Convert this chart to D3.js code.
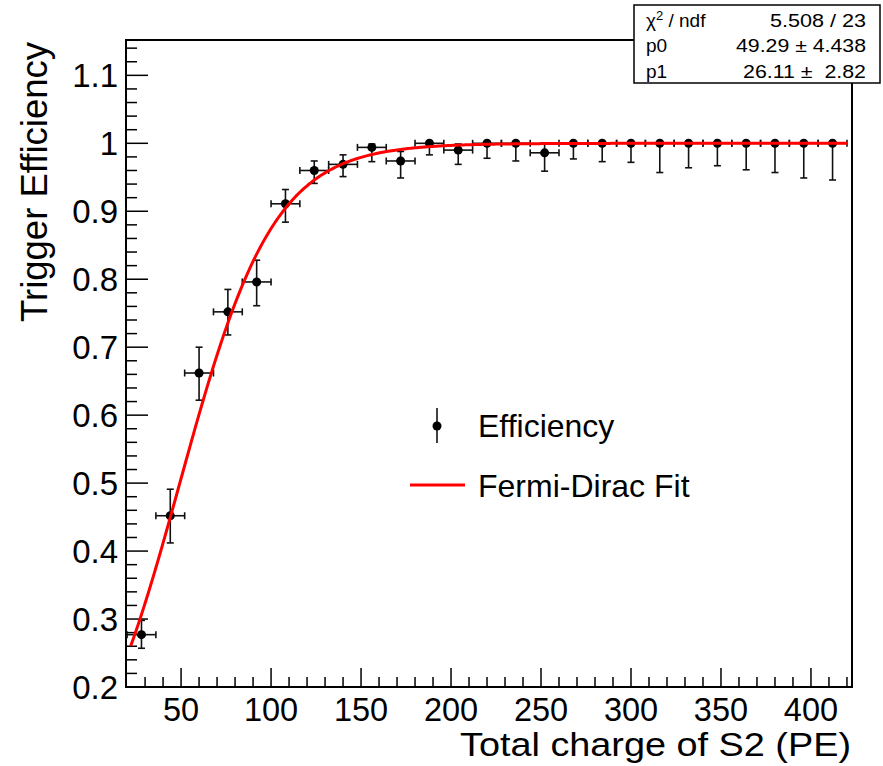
<!DOCTYPE html>
<html>
<head>
<meta charset="utf-8">
<script src="https://cdn.jsdelivr.net/npm/d3@7"></script>
<style>
    body { margin: 0; background: #fff; }
    text { font-family: "Liberation Sans", Arial, sans-serif; fill: #000; }
</style>
</head>
<body>
<div id="chart"></div>
<script>

// bin centres of S2 charge (PE), bin width 16
const binCenters = [28, 44, 60, 76, 92, 108, 124, 140, 156, 172, 188, 204, 220,
    236, 252, 268, 284, 300, 316, 332, 348, 364, 380, 396, 412];
const binHalfWidth = [8, 8, 8, 8, 8, 8, 8, 8, 8, 8, 8, 8, 8, 8, 8, 8, 8, 8, 8, 8, 8, 8, 8, 8, 8];

// trigger efficiency + asymmetric errors
const efficiency = [0.277, 0.452, 0.662, 0.752, 0.796, 0.911, 0.960, 0.969, 0.994, 0.974,
    1.0, 0.990, 1.0, 1.0, 0.986, 1.0, 1.0, 1.0, 1.0, 1.0, 1.0, 1.0, 1.0, 1.0, 1.0];
const errHigh = [0.021, 0.039, 0.038, 0.033, 0.032, 0.021, 0.014, 0.014, 0.005, 0.014,
    0, 0.009, 0, 0, 0.013, 0, 0, 0, 0, 0, 0, 0, 0, 0, 0];
const errLow = [0.020, 0.040, 0.040, 0.034, 0.035, 0.027, 0.019, 0.018, 0.021, 0.025,
    0.017, 0.021, 0.022, 0.026, 0.027, 0.023, 0.027, 0.028, 0.043, 0.036, 0.033, 0.039,
    0.043, 0.051, 0.054];

// fit results (stats box)
const statLabels = ["p0", "p1"];
const statValues = ["49.29 \u00b1 4.438", "26.11 \u00b1  2.82"];
const chi2Text = "5.508 / 23";
const fitParams = [49.29, 26.11];
const fitRange = [22, 420];

const xTicks = [50, 100, 150, 200, 250, 300, 350, 400];
const yTicks = [0.2, 0.3, 0.4, 0.5, 0.6, 0.7, 0.8, 0.9, 1.0, 1.1];

const legendLabels = ["Efficiency", "Fermi-Dirac Fit"];


class EfficiencyVis {

    constructor(parentElement) {
        this.parentElement = parentElement;
        this.data = binCenters.map((x, i) => ({
            x: x, dx: binHalfWidth[i], y: efficiency[i], hi: errHigh[i], lo: errLow[i]
        }));
        this.initVis();
    }

    initVis() {
        let vis = this;

        vis.width = 883;
        vis.height = 766;
        vis.frame = {left: 126, right: 852, top: 40, bottom: 687};

        vis.svg = d3.select("#" + vis.parentElement).append("svg")
            .attr("width", vis.width)
            .attr("height", vis.height);

        vis.x = d3.scaleLinear()
            .domain([19.4, 422.8])
            .range([vis.frame.left, vis.frame.right]);

        vis.y = d3.scaleLinear()
            .domain([0.2, 1.152])
            .range([vis.frame.bottom, vis.frame.top]);

        vis.drawAxes();
        vis.drawPoints();
        vis.drawFit();
        vis.drawLegend();
        vis.drawStats();
    }

    drawAxes() {
        let vis = this;
        let f = vis.frame;

        // frame
        vis.svg.append("rect")
            .attr("x", f.left).attr("y", f.top)
            .attr("width", f.right - f.left).attr("height", f.bottom - f.top)
            .attr("fill", "none").attr("stroke", "#000").attr("stroke-width", 2);

        // x ticks (major 50, minor 10), drawn inwards
        let xMinor = d3.range(30, 421, 10);
        vis.svg.append("g").selectAll("line")
            .data(xMinor)
            .enter().append("line")
            .attr("x1", d => vis.x(d)).attr("x2", d => vis.x(d))
            .attr("y1", f.bottom)
            .attr("y2", d => f.bottom - (d % 50 === 0 ? 19 : 10))
            .attr("stroke", "#000").attr("stroke-width", 1.5);

        vis.svg.append("g").selectAll("text")
            .data(xTicks)
            .enter().append("text")
            .attr("x", d => vis.x(d))
            .attr("y", 721)
            .attr("text-anchor", "middle")
            .attr("font-size", 32.5)
            .text(d => d);

        // y ticks (major 0.1, minor 0.02)
        let yMinor = d3.range(11, 58).map(i => i * 0.02);
        vis.svg.append("g").selectAll("line")
            .data(yMinor)
            .enter().append("line")
            .attr("x1", f.left)
            .attr("x2", d => f.left + (Math.round(d * 100) % 10 === 0 ? 22 : 11))
            .attr("y1", d => vis.y(d)).attr("y2", d => vis.y(d))
            .attr("stroke", "#000").attr("stroke-width", 1.5);

        vis.svg.append("g").selectAll("text")
            .data(yTicks)
            .enter().append("text")
            .attr("x", 118)
            .attr("y", d => vis.y(d) + 12)
            .attr("text-anchor", "end")
            .attr("font-size", 33)
            .text(d => d3.format("~g")(d));

        // titles
        vis.svg.append("text")
            .attr("x", 851).attr("y", 756)
            .attr("text-anchor", "end")
            .attr("font-size", 33)
            .attr("textLength", 391)
            .attr("lengthAdjust", "spacingAndGlyphs")
            .text("Total charge of S2 (PE)");

        vis.svg.append("text")
            .attr("transform", "translate(47,42) rotate(-90)")
            .attr("text-anchor", "end")
            .attr("font-size", 36.5)
            .text("Trigger Efficiency");
    }

    drawPoints() {
        let vis = this;
        let g = vis.svg.append("g")
            .attr("stroke", "#111").attr("stroke-width", 1.6);

        let pts = g.selectAll(".pt")
            .data(vis.data)
            .enter().append("g").attr("class", "pt");

        // horizontal bar (bin width)
        pts.append("line")
            .attr("x1", d => vis.x(d.x - d.dx)).attr("x2", d => vis.x(d.x + d.dx))
            .attr("y1", d => vis.y(d.y)).attr("y2", d => vis.y(d.y));
        pts.append("line")
            .attr("x1", d => vis.x(d.x - d.dx)).attr("x2", d => vis.x(d.x - d.dx))
            .attr("y1", d => vis.y(d.y) - 3.5).attr("y2", d => vis.y(d.y) + 3.5);
        pts.append("line")
            .attr("x1", d => vis.x(d.x + d.dx)).attr("x2", d => vis.x(d.x + d.dx))
            .attr("y1", d => vis.y(d.y) - 3.5).attr("y2", d => vis.y(d.y) + 3.5);

        // vertical error
        pts.append("line")
            .attr("x1", d => vis.x(d.x)).attr("x2", d => vis.x(d.x))
            .attr("y1", d => vis.y(d.y + d.hi)).attr("y2", d => vis.y(d.y - d.lo));
        pts.append("line")
            .attr("x1", d => vis.x(d.x) - 3.5).attr("x2", d => vis.x(d.x) + 3.5)
            .attr("y1", d => vis.y(d.y + d.hi)).attr("y2", d => vis.y(d.y + d.hi));
        pts.append("line")
            .attr("x1", d => vis.x(d.x) - 3.5).attr("x2", d => vis.x(d.x) + 3.5)
            .attr("y1", d => vis.y(d.y - d.lo)).attr("y2", d => vis.y(d.y - d.lo));

        pts.append("circle")
            .attr("cx", d => vis.x(d.x))
            .attr("cy", d => vis.y(d.y))
            .attr("r", 4.5)
            .attr("fill", "#000").attr("stroke", "none");
    }

    drawFit() {
        let vis = this;
        let p0 = fitParams[0], p1 = fitParams[1];
        let fermi = x => 1 / (Math.exp(-(x - p0) / p1) + 1);

        let xs = d3.range(fitRange[0], fitRange[1] + 0.01, 1);
        let line = d3.line()
            .x(d => vis.x(d))
            .y(d => vis.y(fermi(d)));

        vis.svg.append("path")
            .datum(xs)
            .attr("d", line)
            .attr("fill", "none")
            .attr("stroke", "#ff0000")
            .attr("stroke-width", 3);
    }

    drawLegend() {
        let vis = this;
        let g = vis.svg.append("g");

        g.append("line")
            .attr("x1", 437).attr("x2", 437).attr("y1", 408).attr("y2", 443)
            .attr("stroke", "#111").attr("stroke-width", 1.6);
        g.append("circle")
            .attr("cx", 437).attr("cy", 426).attr("r", 4.5).attr("fill", "#000");
        g.append("line")
            .attr("x1", 410).attr("x2", 465).attr("y1", 485).attr("y2", 485)
            .attr("stroke", "#ff0000").attr("stroke-width", 3);

        g.selectAll("text")
            .data(legendLabels)
            .enter().append("text")
            .attr("x", 478)
            .attr("y", (d, i) => 437 + i * 60)
            .attr("font-size", 32)
            .text(d => d);
    }

    drawStats() {
        let vis = this;
        let g = vis.svg.append("g");

        g.append("rect")
            .attr("x", 634).attr("y", 5)
            .attr("width", 246).attr("height", 78)
            .attr("fill", "#fff").attr("stroke", "#000").attr("stroke-width", 1.5);

        let chi = g.append("text")
            .attr("x", 646).attr("y", 26.5)
            .attr("font-size", 19);
        chi.append("tspan").text("\u03c7");
        chi.append("tspan").attr("font-size", 13).attr("dy", -7).text("2");
        chi.append("tspan").attr("dy", 7).text(" / ndf");

        g.append("text")
            .attr("x", 866).attr("y", 26.5)
            .attr("text-anchor", "end")
            .attr("font-size", 19)
            .attr("textLength", 96)
            .attr("lengthAdjust", "spacingAndGlyphs")
            .text(chi2Text);

        g.selectAll(".lab")
            .data(statLabels)
            .enter().append("text")
            .attr("x", 646)
            .attr("y", (d, i) => 52 + i * 25.5)
            .attr("font-size", 19)
            .text(d => d);

        let valLengths = [130, 123];
        g.selectAll(".val")
            .data(statValues)
            .enter().append("text")
            .attr("x", 866)
            .attr("y", (d, i) => 52 + i * 25.5)
            .attr("text-anchor", "end")
            .attr("font-size", 19)
            .attr("textLength", (d, i) => valLengths[i])
            .attr("lengthAdjust", "spacingAndGlyphs")
            .style("white-space", "pre")
            .text(d => d);
    }
}

new EfficiencyVis("chart");
</script>
</body>
</html>
